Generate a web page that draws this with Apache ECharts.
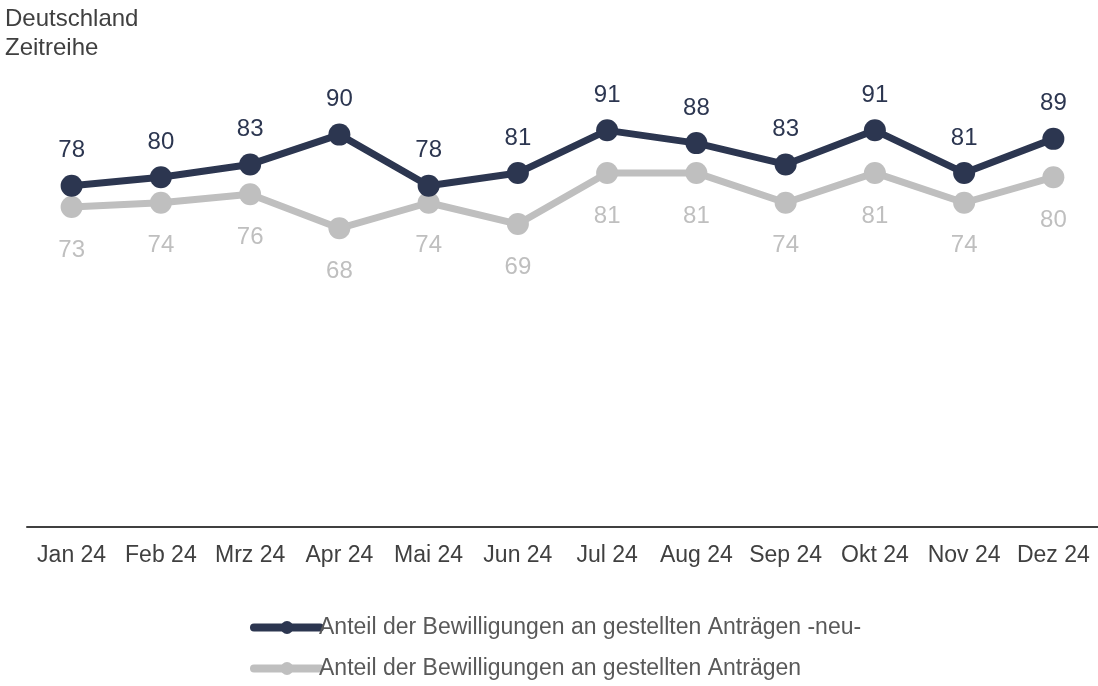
<!DOCTYPE html>
<html>
<head>
<meta charset="utf-8">
<script src="https://cdn.jsdelivr.net/npm/echarts@6/dist/echarts.min.js"></script>
<style>
html, body { margin: 0; padding: 0; background: #fff; }
#box { width: 1098px; height: 686px; }
</style>
</head>
<body>
<div id="box"></div>
<script>
var months = ['Jan 24', 'Feb 24', 'Mrz 24', 'Apr 24', 'Mai 24', 'Jun 24', 'Jul 24', 'Aug 24', 'Sep 24', 'Okt 24', 'Nov 24', 'Dez 24'];
var neuValues = [78, 80, 83, 90, 78, 81, 91, 88, 83, 91, 81, 89];
var altValues = [73, 74, 76, 68, 74, 69, 81, 81, 74, 81, 74, 80];
var seriesNames = ['Anteil der Bewilligungen an gestellten Anträgen -neu-', 'Anteil der Bewilligungen an gestellten Anträgen'];

var myChart = echarts.init(document.getElementById('box'));

var option = {
    animation: false,
    textStyle: { fontFamily: 'Liberation Sans, Arial, sans-serif' },
    title: {
        text: 'Deutschland\nZeitreihe',
        left: 0,
        top: 0,
        textStyle: { fontSize: 24, fontWeight: 'normal', color: '#404040', lineHeight: 29 }
    },
    legend: {
        orient: 'vertical',
        left: 250,
        top: 616,
        padding: 0,
        height: 70,
        itemWidth: 66,
        itemHeight: 16,
        itemGap: 18,
        data: [seriesNames[0], seriesNames[1]],
        lineStyle: { width: 8, cap: 'round' },
        textStyle: { fontSize: 23, lineHeight: 23, color: '#595959', padding: [0, 0, 0, -6] }
    },
    grid: {
        left: 27,
        right: -2,
        top: 92,
        bottom: 168
    },
    xAxis: {
        type: 'category',
        data: months,
        offset: 9,
        axisLine: { onZero: false, lineStyle: { color: '#404040', width: 2 } },
        axisTick: { show: false },
        axisLabel: { interval: 0, fontSize: 23, color: '#404040', margin: 17 }
    },
    yAxis: {
        type: 'value',
        min: 0,
        max: 100,
        show: false
    },
    series: [
        {
            name: seriesNames[1],
            type: 'line',
            data: altValues,
            symbol: 'circle',
            symbolSize: 22,
            lineStyle: { width: 7, color: '#bfbfbf' },
            itemStyle: { color: '#bfbfbf' },
            label: { show: true, position: 'bottom', distance: 20, fontSize: 24, color: '#bfbfbf' },
            z: 2
        },
        {
            name: seriesNames[0],
            type: 'line',
            data: neuValues,
            symbol: 'circle',
            symbolSize: 22,
            lineStyle: { width: 7, color: '#2c3650' },
            itemStyle: { color: '#2c3650' },
            label: { show: true, position: 'top', distance: 12, fontSize: 24, color: '#2c3650' },
            z: 3
        }
    ]
};
myChart.setOption(option);
</script>
</body>
</html>
